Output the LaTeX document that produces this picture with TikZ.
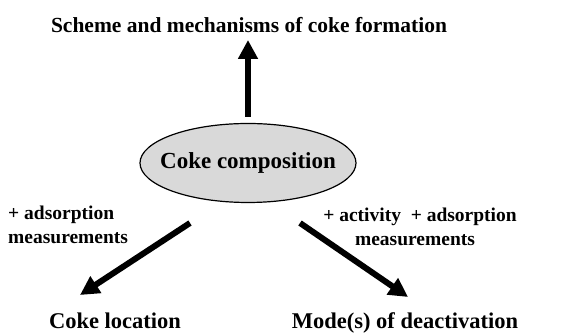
\documentclass[tikz,border=0pt]{standalone}
\usepackage{fontspec}
\setmainfont{Liberation Serif}
\usetikzlibrary{arrows.meta}
\definecolor{ellgray}{RGB}{217,217,217}
\begin{document}
\begin{tikzpicture}[x=1pt,y=1pt,
  ttl/.style={font=\bfseries\fontsize{21.5}{23}\selectfont, inner sep=0pt},
  lbl/.style={font=\bfseries\fontsize{22.5}{24}\selectfont, inner sep=0pt, anchor=base},
  sml/.style={font=\bfseries\fontsize{19.5}{22}\selectfont, inner sep=0pt},
  bigarrow/.style={line width=6pt, -{Triangle[width=19pt,length=19pt]}}]
\useasboundingbox (0,0) rectangle (579,334);
\node[ttl] (title) at (249,309) {Scheme and mechanisms of coke formation};
\draw[line width=1.2pt, fill=ellgray] (248,171) ellipse [x radius=108, y radius=39.5];
\node[font=\bfseries\fontsize{23}{25}\selectfont, inner sep=0pt] (comp) at (248,171) {Coke composition};
\node[lbl] (loc) at (115,5) {Coke location};
\node[lbl] (mode) at (405,5) {Mode(s) of deactivation};
\node[sml, anchor=west] (ladsA) at (8,119) {+ adsorption};
\node[sml, anchor=west] (ladsB) at (8,96) {measurements};
\node[sml] (radsA) at (420,117) {+ activity\enspace+ adsorption};
\node[sml] (radsB) at (415,94) {measurements};
\coordinate (upS) at (248,217);
\coordinate (upE) at (248,294);
\coordinate (lS) at (190,111);
\coordinate (lE) at (80,39);
\coordinate (rS) at (300,111);
\coordinate (rE) at (408,37);
\draw[bigarrow] (upS) -- (upE);
\draw[bigarrow] (lS) -- (lE);
\draw[bigarrow] (rS) -- (rE);
\end{tikzpicture}
\end{document}
